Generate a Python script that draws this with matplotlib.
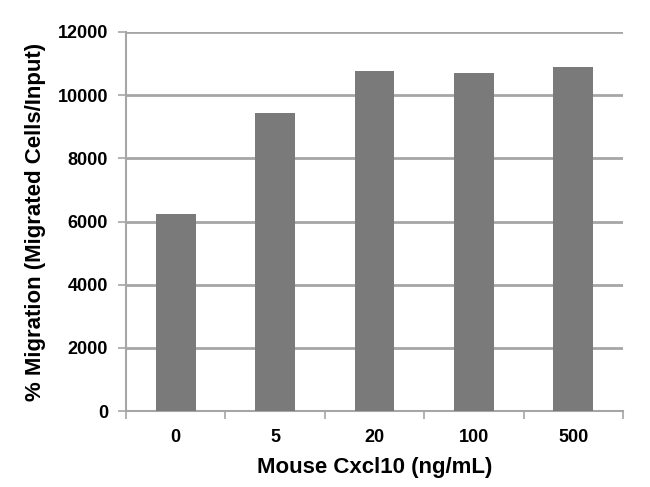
import matplotlib
matplotlib.use("Agg")
import matplotlib.pyplot as plt
import numpy as np

# Chart data
doses = ["0", "5", "20", "100", "500"]
migration = [6250, 9450, 10780, 10710, 10900]
y_ticks = [0, 2000, 4000, 6000, 8000, 10000, 12000]

plt.rcParams["font.family"] = ["Liberation Sans", "DejaVu Sans"]
plt.rcParams["font.weight"] = "bold"

fig = plt.figure(figsize=(6.5, 4.87), dpi=100)
ax = fig.add_axes([126 / 650, 1 - 411 / 487, 497 / 650, 379 / 487])

grid_color = "#a6a6a6"
x_pos = np.arange(len(doses))
ax.bar(x_pos, migration, width=0.4, color="#7a7a7a", zorder=3)

ax.set_xlim(-0.5, len(doses) - 0.5)
ax.set_ylim(0, 12000)
ax.set_yticks(y_ticks)
ax.set_yticklabels([str(v) for v in y_ticks], fontsize=13, fontweight="bold")
ax.yaxis.grid(True, color=grid_color, linewidth=2, zorder=0)

# category labels centered, tick marks between categories
ax.set_xticks(x_pos)
ax.set_xticklabels(doses, fontsize=13, fontweight="bold")
ax.tick_params(axis="x", which="major", length=0, pad=13)
ax.set_xticks(np.arange(-0.5, len(doses)), minor=True)
ax.tick_params(axis="x", which="minor", length=6, width=1.2, color=grid_color)
ax.tick_params(axis="y", length=6, width=1.2, color=grid_color, pad=7)

for side in ["top", "right"]:
    ax.spines[side].set_visible(False)
for side in ["left", "bottom"]:
    ax.spines[side].set_color(grid_color)
    ax.spines[side].set_linewidth(1.5)

ax.set_xlabel("Mouse Cxcl10 (ng/mL)", fontsize=16, fontweight="bold", labelpad=8)
ax.set_ylabel("% Migration (Migrated Cells/Input)", fontsize=16, fontweight="bold", labelpad=8)

fig.savefig("out.png", dpi=100)
